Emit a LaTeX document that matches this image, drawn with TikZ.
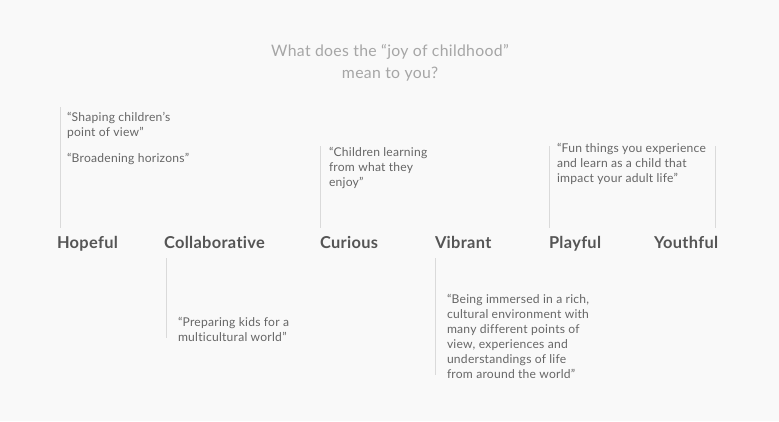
\documentclass[tikz,border=0pt]{standalone}
\usepackage{fontspec}
\setmainfont{Lato}[LetterSpace=2,Ligatures={NoCommon,NoDiscretionary,NoRare}]
\definecolor{bg}{HTML}{F9F9F9}
\definecolor{titlec}{HTML}{A6A6A6}
\definecolor{labelc}{HTML}{555555}
\definecolor{quotec}{HTML}{666666}
\definecolor{rulec}{HTML}{DADADA}
\begin{document}
\begin{tikzpicture}[x=1pt,y=-1pt,
  every node/.style={inner sep=0pt,outer sep=0pt},
  title/.style={font=\fontsize{15.8}{22}\selectfont,text=titlec,align=center},
  label/.style={anchor=base west,font=\fontsize{16.4}{18}\selectfont\bfseries,text=labelc},
  quote/.style={anchor=base west,font=\fontsize{12.1}{15}\selectfont,text=quotec,align=left},
  rule/.style={draw=rulec,line width=1pt}]
\fill[bg] (0,0) rectangle (779,421);
\useasboundingbox (0,0) rectangle (779,421);
\node[title,anchor=base] (t) at (390,78) {What does the “joy of childhood”\\mean to you?};
% labels
\node[label] (hop) at (57,248) {Hopeful};
\node[label] (col) at (164,248) {Collaborative};
\node[label] (cur) at (320,248) {Curious};
\node[label] (vib) at (435,248) {Vibrant};
\node[label] (pla) at (549,248) {Playful};
\node[label] (you) at (654,248) {Youthful};
% quotes (base = baseline of last line)
\node[quote] (q1) at (67,136) {“Shaping children’s\\point of view”};
\node[quote] (q2) at (67,162) {“Broadening horizons”};
\node[quote] (q3) at (329,186) {“Children learning\\from what they\\enjoy”};
\node[quote] (q4) at (557,182) {“Fun things you experience\\and learn as a child that\\impact your adult life”};
\node[quote] (q5) at (178,341) {“Preparing kids for a\\multicultural world”};
\node[quote] (q6) at (447,378) {“Being immersed in a rich,\\cultural environment with\\many different points of\\view, experiences and\\understandings of life\\from around the world”};
% rules
\coordinate (h1) at (60,107); \coordinate (h2) at (60,228);
\coordinate (c1) at (320,146); \coordinate (c2) at (320,228);
\coordinate (p1) at (549,146); \coordinate (p2) at (549,228);
\coordinate (y1) at (715,146); \coordinate (y2) at (715,228);
\coordinate (l1) at (166,258); \coordinate (l2) at (166,338);
\coordinate (v1) at (435,258); \coordinate (v2) at (435,375);
\draw[rule] (h1) -- (h2);
\draw[rule] (c1) -- (c2);
\draw[rule] (p1) -- (p2);
\draw[rule] (y1) -- (y2);
\draw[rule] (l1) -- (l2);
\draw[rule] (v1) -- (v2);
\end{tikzpicture}
\end{document}
